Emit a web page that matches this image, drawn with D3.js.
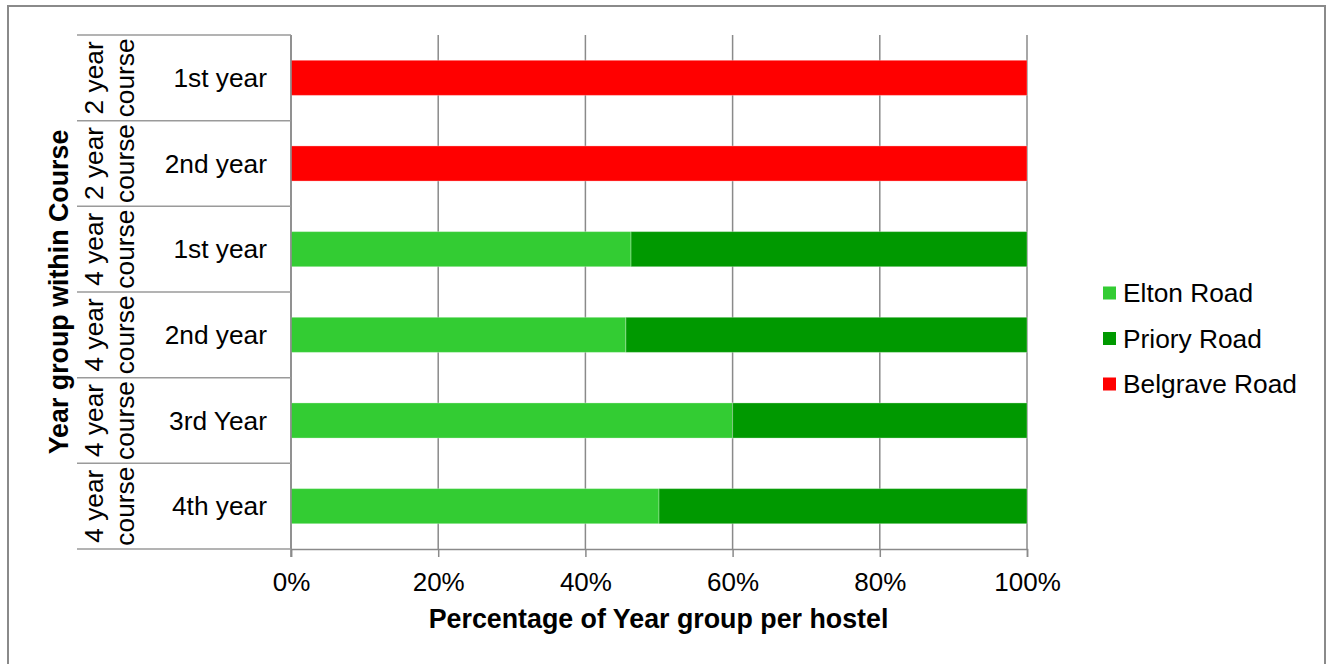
<!DOCTYPE html>
<html>
<head>
<meta charset="utf-8">
<script src="https://cdn.jsdelivr.net/npm/d3@7"></script>
<style>
  html, body { margin: 0; padding: 0; background: #fff; }
  svg { display: block; font-family: "Liberation Sans", Arial, sans-serif; }
</style>
</head>
<body>
<svg id="chart" width="1332" height="664"></svg>
<script>
// Course length and year within the course, one entry per row (top to bottom)
const courses = ["2 year course", "2 year course", "4 year course", "4 year course", "4 year course", "4 year course"];
const years = ["1st year", "2nd year", "1st year", "2nd year", "3rd Year", "4th year"];

// Share of each year group living in each hostel (%)
const series = ["Elton Road", "Priory Road", "Belgrave Road"];
const eltonRoad = [0, 0, 46.2, 45.5, 60, 50];
const prioryRoad = [0, 0, 53.8, 54.5, 40, 50];
const belgraveRoad = [100, 100, 0, 0, 0, 0];
const colors = ["#33cc33", "#009900", "#ff0000"];

const xTicks = [0, 20, 40, 60, 80, 100];

const rows = years.map((y, i) => ({
  id: i, course: courses[i], year: y,
  "Elton Road": eltonRoad[i], "Priory Road": prioryRoad[i], "Belgrave Road": belgraveRoad[i]
}));

const svg = d3.select("#chart");
const gridColor = "#8a8a8a";

// outer chart frame
svg.append("rect")
  .attr("x", 8).attr("y", 6).attr("width", 1317).attr("height", 680)
  .attr("fill", "none").attr("stroke", "#8a8a8a").attr("stroke-width", 2);

const plot = { left: 291, right: 1027, top: 35, bottom: 549 };

const x = d3.scaleLinear().domain([0, 100]).range([plot.left, plot.right]);
const y = d3.scaleBand().domain(rows.map(d => d.id)).range([plot.top, plot.bottom]).padding(0);
const barFrac = 0.41;

// vertical gridlines
svg.append("g").selectAll("line").data(xTicks).join("line")
  .attr("x1", d => x(d)).attr("x2", d => x(d))
  .attr("y1", plot.top).attr("y2", plot.bottom)
  .attr("stroke", gridColor).attr("stroke-width", 1.5);

// stacked bars
const stack = d3.stack().keys(series)(rows);
svg.append("g").selectAll("g").data(stack).join("g")
  .attr("fill", (d, i) => colors[i])
  .selectAll("rect").data(d => d.filter(s => s[1] - s[0] > 0)).join("rect")
  .attr("x", s => x(s[0]))
  .attr("width", s => x(s[1]) - x(s[0]))
  .attr("y", s => y(s.data.id) + y.bandwidth() * (1 - barFrac) / 2)
  .attr("height", y.bandwidth() * barFrac)
  .attr("stroke", "rgba(255,255,255,0.3)").attr("stroke-width", 1);

// bottom axis
const xAxis = d3.axisBottom(x).tickValues(xTicks).tickFormat(d => d + "%").tickSize(8).tickPadding(16);
const gx = svg.append("g").attr("transform", `translate(0,${plot.bottom})`).call(xAxis);
gx.select(".domain").attr("stroke", gridColor).attr("stroke-width", 1.5);
gx.selectAll(".tick line").attr("stroke", gridColor).attr("stroke-width", 1.5);
gx.selectAll(".tick text").attr("font-size", 26).attr("fill", "#000")
  .attr("font-family", "Liberation Sans, Arial, sans-serif");

// category axis line and group separators
svg.append("line")
  .attr("x1", plot.left).attr("x2", plot.left)
  .attr("y1", plot.top).attr("y2", plot.bottom + 8)
  .attr("stroke", gridColor).attr("stroke-width", 1.5);

const bounds = rows.map(d => y(d.id)).concat([plot.bottom]);
svg.append("g").selectAll("line").data(bounds).join("line")
  .attr("x1", 77).attr("x2", plot.left)
  .attr("y1", d => d).attr("y2", d => d)
  .attr("stroke", "#9a9a9a").attr("stroke-width", 1.5);

// year labels
svg.append("g").selectAll("text").data(rows).join("text")
  .attr("x", 267)
  .attr("y", d => y(d.id) + y.bandwidth() / 2)
  .attr("dy", "0.35em")
  .attr("text-anchor", "end")
  .attr("font-size", 26.3)
  .text(d => d.year);

// course labels, two stacked lines rotated
const courseG = svg.append("g").selectAll("text").data(rows).join("text")
  .attr("transform", d => `translate(103,${y(d.id) + y.bandwidth() / 2}) rotate(-90)`)
  .attr("text-anchor", "middle")
  .attr("font-size", 26.3);
courseG.append("tspan").attr("x", 0).attr("y", 0).text(d => d.course.split(" ").slice(0, 2).join(" "));
courseG.append("tspan").attr("x", 0).attr("y", 31).text(d => d.course.split(" ").slice(2).join(" "));

// axis titles
svg.append("text")
  .attr("x", (plot.left + plot.right) / 2 - 0.5).attr("y", 628)
  .attr("text-anchor", "middle").attr("font-size", 26.8).attr("font-weight", "bold")
  .text("Percentage of Year group per hostel");

svg.append("text")
  .attr("transform", `translate(68,${(plot.top + plot.bottom) / 2}) rotate(-90)`)
  .attr("text-anchor", "middle").attr("font-size", 26.8).attr("font-weight", "bold")
  .text("Year group within Course");

// legend
const legend = svg.append("g").selectAll("g").data(series).join("g")
  .attr("transform", (d, i) => `translate(1103,${293 + i * 45.5})`);
legend.append("rect")
  .attr("x", 0).attr("y", -6.5).attr("width", 13).attr("height", 13)
  .attr("fill", (d, i) => colors[i]);
legend.append("text")
  .attr("x", 20).attr("y", 0).attr("dy", "0.35em")
  .attr("font-size", 26.3)
  .text(d => d);
</script>
</body>
</html>
